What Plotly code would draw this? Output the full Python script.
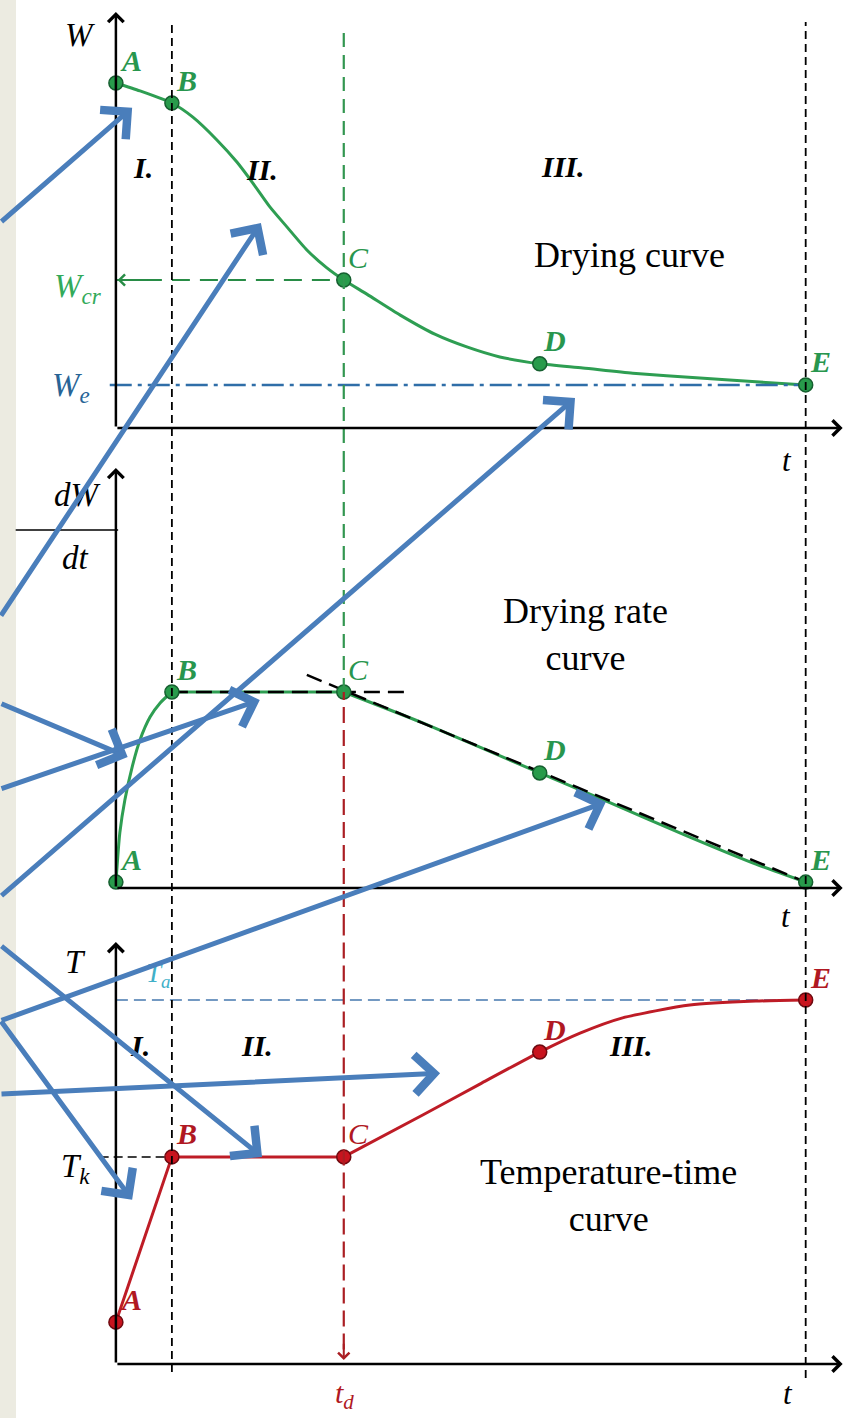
import plotly.graph_objects as go

# ---------------- data ----------------
POINT_NAMES = ["A", "B", "C", "D", "E"]
T_POINTS = [0.0, 1.0, 4.07, 7.57, 12.32]          # times of A..E ; C is t_d
T_D = 4.07

# drying curve W(t)
W_T = [0, 0.43, 1.0, 1.375, 1.804, 2.161, 2.446, 2.75, 3.054, 3.411, 3.768, 4.07,
       4.482, 5.071, 5.696, 6.268, 6.857, 7.57, 8.339, 9.232, 10.43, 11.5, 12.32]
W_VAL = [1.0, 0.977, 0.942, 0.901, 0.835, 0.771, 0.710, 0.641, 0.583, 0.516, 0.464, 0.429,
         0.388, 0.328, 0.272, 0.235, 0.206, 0.186, 0.174, 0.159, 0.145, 0.133, 0.125]
W_POINTS = [1.0, 0.942, 0.429, 0.186, 0.125]
W_CR = 0.429
W_E = 0.125

# drying rate curve -dW/dt
R_T_RISE = [0, 0.02, 0.07, 0.16, 0.29, 0.43, 0.61, 0.79, 1.0]
R_RISE = [0.03, 0.107, 0.281, 0.449, 0.617, 0.755, 0.872, 0.944, 1.0]
R_T_CONST = [1.0, 4.07]
R_CONST = [1.0, 1.0]
R_T_FALL = [4.07, 5.48, 7.57, 8.75, 10.25, 11.43, 12.32]
R_FALL = [1.0, 0.842, 0.587, 0.444, 0.260, 0.122, 0.03]
R_POINTS = [0.03, 1.0, 1.0, 0.587, 0.03]
TAN_H_T = [1.0, 5.16]
TAN_H = [1.0, 1.0]
TAN_F_T = [3.41, 12.32]
TAN_F = [1.087, 0.03]

# temperature-time curve
TEMP_T_HEAT = [0.0, 1.0, 4.07]
TEMP_HEAT = [11.5, 56.9, 56.9]
TEMP_T_RISE = [4.07, 5.48, 6.5, 7.57, 8.29, 9.05, 10.25, 11.43, 12.32]
TEMP_RISE = [56.9, 68.4, 76.9, 85.7, 90.9, 95.1, 98.6, 99.7, 100.0]
TEMP_POINTS = [11.5, 56.9, 56.9, 85.7, 100.0]
T_AIR = 100.0
T_K = 56.9

# pointer arrows: (axis, t, value, tail dx px, tail dy px)
POINTERS = [
    ("y", 0.29, 0.928, -162, 115),
    ("y", 2.59, 0.594, -291, 394),
    ("y", 8.20, 0.087, -605, 499),
    ("y2", 0.21, 0.668, -158, -54),
    ("y2", 2.57, 0.959, -290, 89),
    ("y2", 8.75, 0.439, -636, 219),
    ("y3", 2.61, 56.9, -292, -212),
    ("y3", 0.29, 45.1, -162, -180),
    ("y3", 5.79, 79.9, -470, 21),
]

# ---------------- layout geometry ----------------
W_PX, H_PX = 846, 1418
X_RANGE = [-2.07, 13.04]
X_AX_END = 12.98
P1 = dict(top=0, bot=465, zero=428, ppu=345.0)
P2 = dict(top=465, bot=930, zero=888, ppu=196.0)
P3 = dict(top=930, bot=1418, zero=1364, ppu=3.64)


def dom(p):
    return [1 - p["bot"] / H_PX, 1 - p["top"] / H_PX]


def rng(p):
    return [(p["zero"] - p["bot"]) / p["ppu"], (p["zero"] - p["top"]) / p["ppu"]]


GREEN = "rgb(46,158,82)"
GREEN_D = "rgb(22,95,48)"
GREEN_T = "rgb(40,150,78)"
RED = "rgb(190,28,38)"
RED_D = "rgb(110,10,16)"
RED_T = "rgb(176,24,34)"
BLUE = "rgb(74,126,187)"
SERIF = "Liberation Serif, Times New Roman, Tinos, DejaVu Serif, serif"

fig = go.Figure()

# drying curve
fig.add_trace(go.Scatter(x=W_T, y=W_VAL, mode="lines", yaxis="y",
                         line=dict(color=GREEN, width=3, shape="spline", smoothing=0.6)))
fig.add_trace(go.Scatter(x=[0, T_D], y=[W_CR, W_CR], mode="lines", yaxis="y",
                         line=dict(color="rgb(40,140,70)", width=2, dash="18px,10px")))
fig.add_trace(go.Scatter(x=[-0.11, T_POINTS[-1]], y=[W_E, W_E], mode="lines", yaxis="y",
                         line=dict(color="rgb(47,110,168)", width=2.5, dash="22px,6px,4px,6px")))
fig.add_trace(go.Scatter(x=T_POINTS, y=W_POINTS, mode="markers", yaxis="y",
                         marker=dict(size=14, color="rgb(40,155,75)", line=dict(color=GREEN_D, width=1.5))))

# drying rate curve
fig.add_trace(go.Scatter(x=R_T_RISE, y=R_RISE, mode="lines", yaxis="y2",
                         line=dict(color=GREEN, width=3, shape="spline", smoothing=0.8)))
fig.add_trace(go.Scatter(x=R_T_CONST, y=R_CONST, mode="lines", yaxis="y2",
                         line=dict(color=GREEN, width=3)))
fig.add_trace(go.Scatter(x=R_T_FALL, y=R_FALL, mode="lines", yaxis="y2",
                         line=dict(color=GREEN, width=3, shape="spline", smoothing=0.6)))
fig.add_trace(go.Scatter(x=TAN_H_T, y=TAN_H, mode="lines", yaxis="y2",
                         line=dict(color="black", width=2.5, dash="16px,8px")))
fig.add_trace(go.Scatter(x=TAN_F_T, y=TAN_F, mode="lines", yaxis="y2",
                         line=dict(color="black", width=2.5, dash="16px,8px")))
fig.add_trace(go.Scatter(x=T_POINTS, y=R_POINTS, mode="markers", yaxis="y2",
                         marker=dict(size=14, color="rgb(40,155,75)", line=dict(color=GREEN_D, width=1.5))))

# temperature curve
fig.add_trace(go.Scatter(x=[0, T_POINTS[-1]], y=[T_AIR, T_AIR], mode="lines", yaxis="y3",
                         line=dict(color="rgb(70,120,175)", width=1.5, dash="12px,6px")))
fig.add_trace(go.Scatter(x=[-0.29, T_POINTS[1]], y=[T_K, T_K], mode="lines", yaxis="y3",
                         line=dict(color="black", width=1.5, dash="9px,5px")))
fig.add_trace(go.Scatter(x=TEMP_T_HEAT, y=TEMP_HEAT, mode="lines", yaxis="y3",
                         line=dict(color=RED, width=3)))
fig.add_trace(go.Scatter(x=TEMP_T_RISE, y=TEMP_RISE, mode="lines", yaxis="y3",
                         line=dict(color=RED, width=3, shape="spline", smoothing=0.6)))
fig.add_trace(go.Scatter(x=T_POINTS, y=TEMP_POINTS, mode="markers", yaxis="y3",
                         marker=dict(size=14, color="rgb(200,20,30)", line=dict(color=RED_D, width=1.5))))

shapes = []
# left beige strip
shapes.append(dict(type="rect", xref="paper", yref="paper", x0=0, x1=16 / W_PX, y0=0, y1=1,
                   fillcolor="rgb(236,235,225)", line=dict(width=0), layer="below"))
# vertical dashed guides through all panels
for tx, ptop, pbot in [(T_POINTS[1], 25, 1372), (T_POINTS[-1], 22, 1378)]:
    shapes.append(dict(type="line", xref="x", yref="paper", x0=tx, x1=tx,
                       y0=1 - pbot / H_PX, y1=1 - ptop / H_PX,
                       line=dict(color="black", width=1.8, dash="8px,5px")))
# t_d guide: green above C (rate panel), red below
shapes.append(dict(type="line", xref="x", yref="paper", x0=T_D, x1=T_D,
                   y0=dom(P1)[0], y1=1 - 25 / H_PX,
                   line=dict(color="rgb(50,150,80)", width=2.2, dash="14px,8px")))
shapes.append(dict(type="line", xref="x", yref="y2", x0=T_D, x1=T_D,
                   y0=R_POINTS[2], y1=rng(P2)[1],
                   line=dict(color="rgb(50,150,80)", width=2.2, dash="14px,8px")))
shapes.append(dict(type="line", xref="x", yref="y2", x0=T_D, x1=T_D,
                   y0=rng(P2)[0], y1=R_POINTS[2],
                   line=dict(color="rgb(170,30,35)", width=2.2, dash="16px,7px")))
shapes.append(dict(type="line", xref="x", yref="y3", x0=T_D, x1=T_D,
                   y0=4, y1=rng(P3)[1],
                   line=dict(color="rgb(170,30,35)", width=2.2, dash="16px,7px")))
# fraction bar of -dW/dt
shapes.append(dict(type="line", xref="x", yref="y2", x0=-1.79, x1=0.04, y0=1.827, y1=1.827,
                   line=dict(color="black", width=1.5)))

ann = []


def arrow(yref, x, y, ax, ay, color="black", width=2.5, head=4, size=1.2):
    ann.append(dict(xref="x", yref=yref, x=x, y=y, axref="x", ayref=yref, ax=ax, ay=ay,
                    showarrow=True, arrowhead=head, arrowsize=size, arrowwidth=width,
                    arrowcolor=color, text="", standoff=0))


# axes with arrowheads
arrow("y", 0, 1.206, 0, 0)
arrow("y", X_AX_END, 0, 0, 0)
arrow("y2", 0, 2.143, 0, 0)
arrow("y2", X_AX_END, 0, 0, 0)
arrow("y3", 0, 115.9, 0, 0)
arrow("y3", X_AX_END, 0, 0, 0)
# W_cr arrow head at axis and t_d arrow head
arrow("y", 0.03, W_CR, 0.6, W_CR, color="rgb(40,140,70)", width=2, size=1.1)
arrow("y3", T_D, 1.1, T_D, 6, color="rgb(170,30,35)", width=2, size=1.1)


def txt(yref, x, y, s, size=30, color="black", bold=False, italic=True, xshift=0, yshift=0):
    if bold:
        s = "<b>" + s + "</b>"
    if italic:
        s = "<i>" + s + "</i>"
    ann.append(dict(xref="x", yref=yref, x=x, y=y, text=s, showarrow=False,
                    font=dict(family=SERIF, size=size, color=color),
                    xshift=xshift, yshift=yshift))


# point letters
for yref, vals, col in [("y", W_POINTS, GREEN_T), ("y2", R_POINTS, GREEN_T), ("y3", TEMP_POINTS, RED_T)]:
    for name, tx, v in zip(POINT_NAMES, T_POINTS, vals):
        txt(yref, tx, v, name, size=30, color=col, bold=(name != "C"), xshift=15, yshift=23)

# panel 1 texts
txt("y", -0.64, 1.139, "W", size=33)
txt("y", 0.48, 0.754, "I.", size=30, bold=True)
txt("y", 2.61, 0.748, "II.", size=30, bold=True)
txt("y", 7.98, 0.757, "III.", size=30, bold=True)
txt("y", 9.18, 0.501, "Drying curve", size=36, italic=False)
txt("y", -0.68, 0.404, "W<sub>cr</sub>", size=33, color="rgb(50,170,90)")
txt("y", -0.80, 0.117, "W<sub>e</sub>", size=33, color="rgb(40,100,150)")
txt("y", 11.98, -0.093, "t", size=31)

# panel 2 texts
txt("y2", -0.68, 2.005, "dW", size=33)
txt("y2", -0.73, 1.684, "dt", size=33)
txt("y2", 8.39, 1.291, "Drying rate<br>curve", size=36, italic=False)
txt("y2", 11.96, -0.143, "t", size=31)

# panel 3 texts
txt("y3", -0.73, 110.4, "T", size=33)
txt("y3", 0.75, 106.9, "T<sub>a</sub>", size=27, color="rgb(64,176,200)")
txt("y3", 0.43, 87.6, "I.", size=30, bold=True)
txt("y3", 2.52, 87.6, "II.", size=30, bold=True)
txt("y3", 9.2, 87.6, "III.", size=30, bold=True)
txt("y3", -0.73, 53.8, "T<sub>k</sub>", size=33)
txt("y3", 8.79, 46.4, "Temperature-time<br>curve", size=36, italic=False)
txt("y3", 4.09, -8.6, "t<sub>d</sub>", size=30, color=RED_T)
txt("y3", 12.0, -8.0, "t", size=31)

# blue pointer arrows
for yref, tx, v, dx, dy in POINTERS:
    ann.append(dict(xref="x", yref=yref, x=tx, y=v, ax=dx, ay=dy, showarrow=True,
                    arrowhead=4, arrowsize=1.5, arrowwidth=5, arrowcolor=BLUE,
                    text="", standoff=0))

fig.update_layout(
    width=W_PX, height=H_PX, margin=dict(l=0, r=0, t=0, b=0),
    paper_bgcolor="white", plot_bgcolor="white", showlegend=False,
    xaxis=dict(range=X_RANGE, visible=False, domain=[0, 1], anchor="y3"),
    yaxis=dict(range=rng(P1), domain=dom(P1), visible=False, anchor="x"),
    yaxis2=dict(range=rng(P2), domain=dom(P2), visible=False, anchor="x"),
    yaxis3=dict(range=rng(P3), domain=dom(P3), visible=False, anchor="x"),
    shapes=shapes, annotations=ann,
)

fig.write_html("out.html", config={"displayModeBar": False},
               post_script="document.body.style.margin='0';document.body.style.overflow='hidden';")
